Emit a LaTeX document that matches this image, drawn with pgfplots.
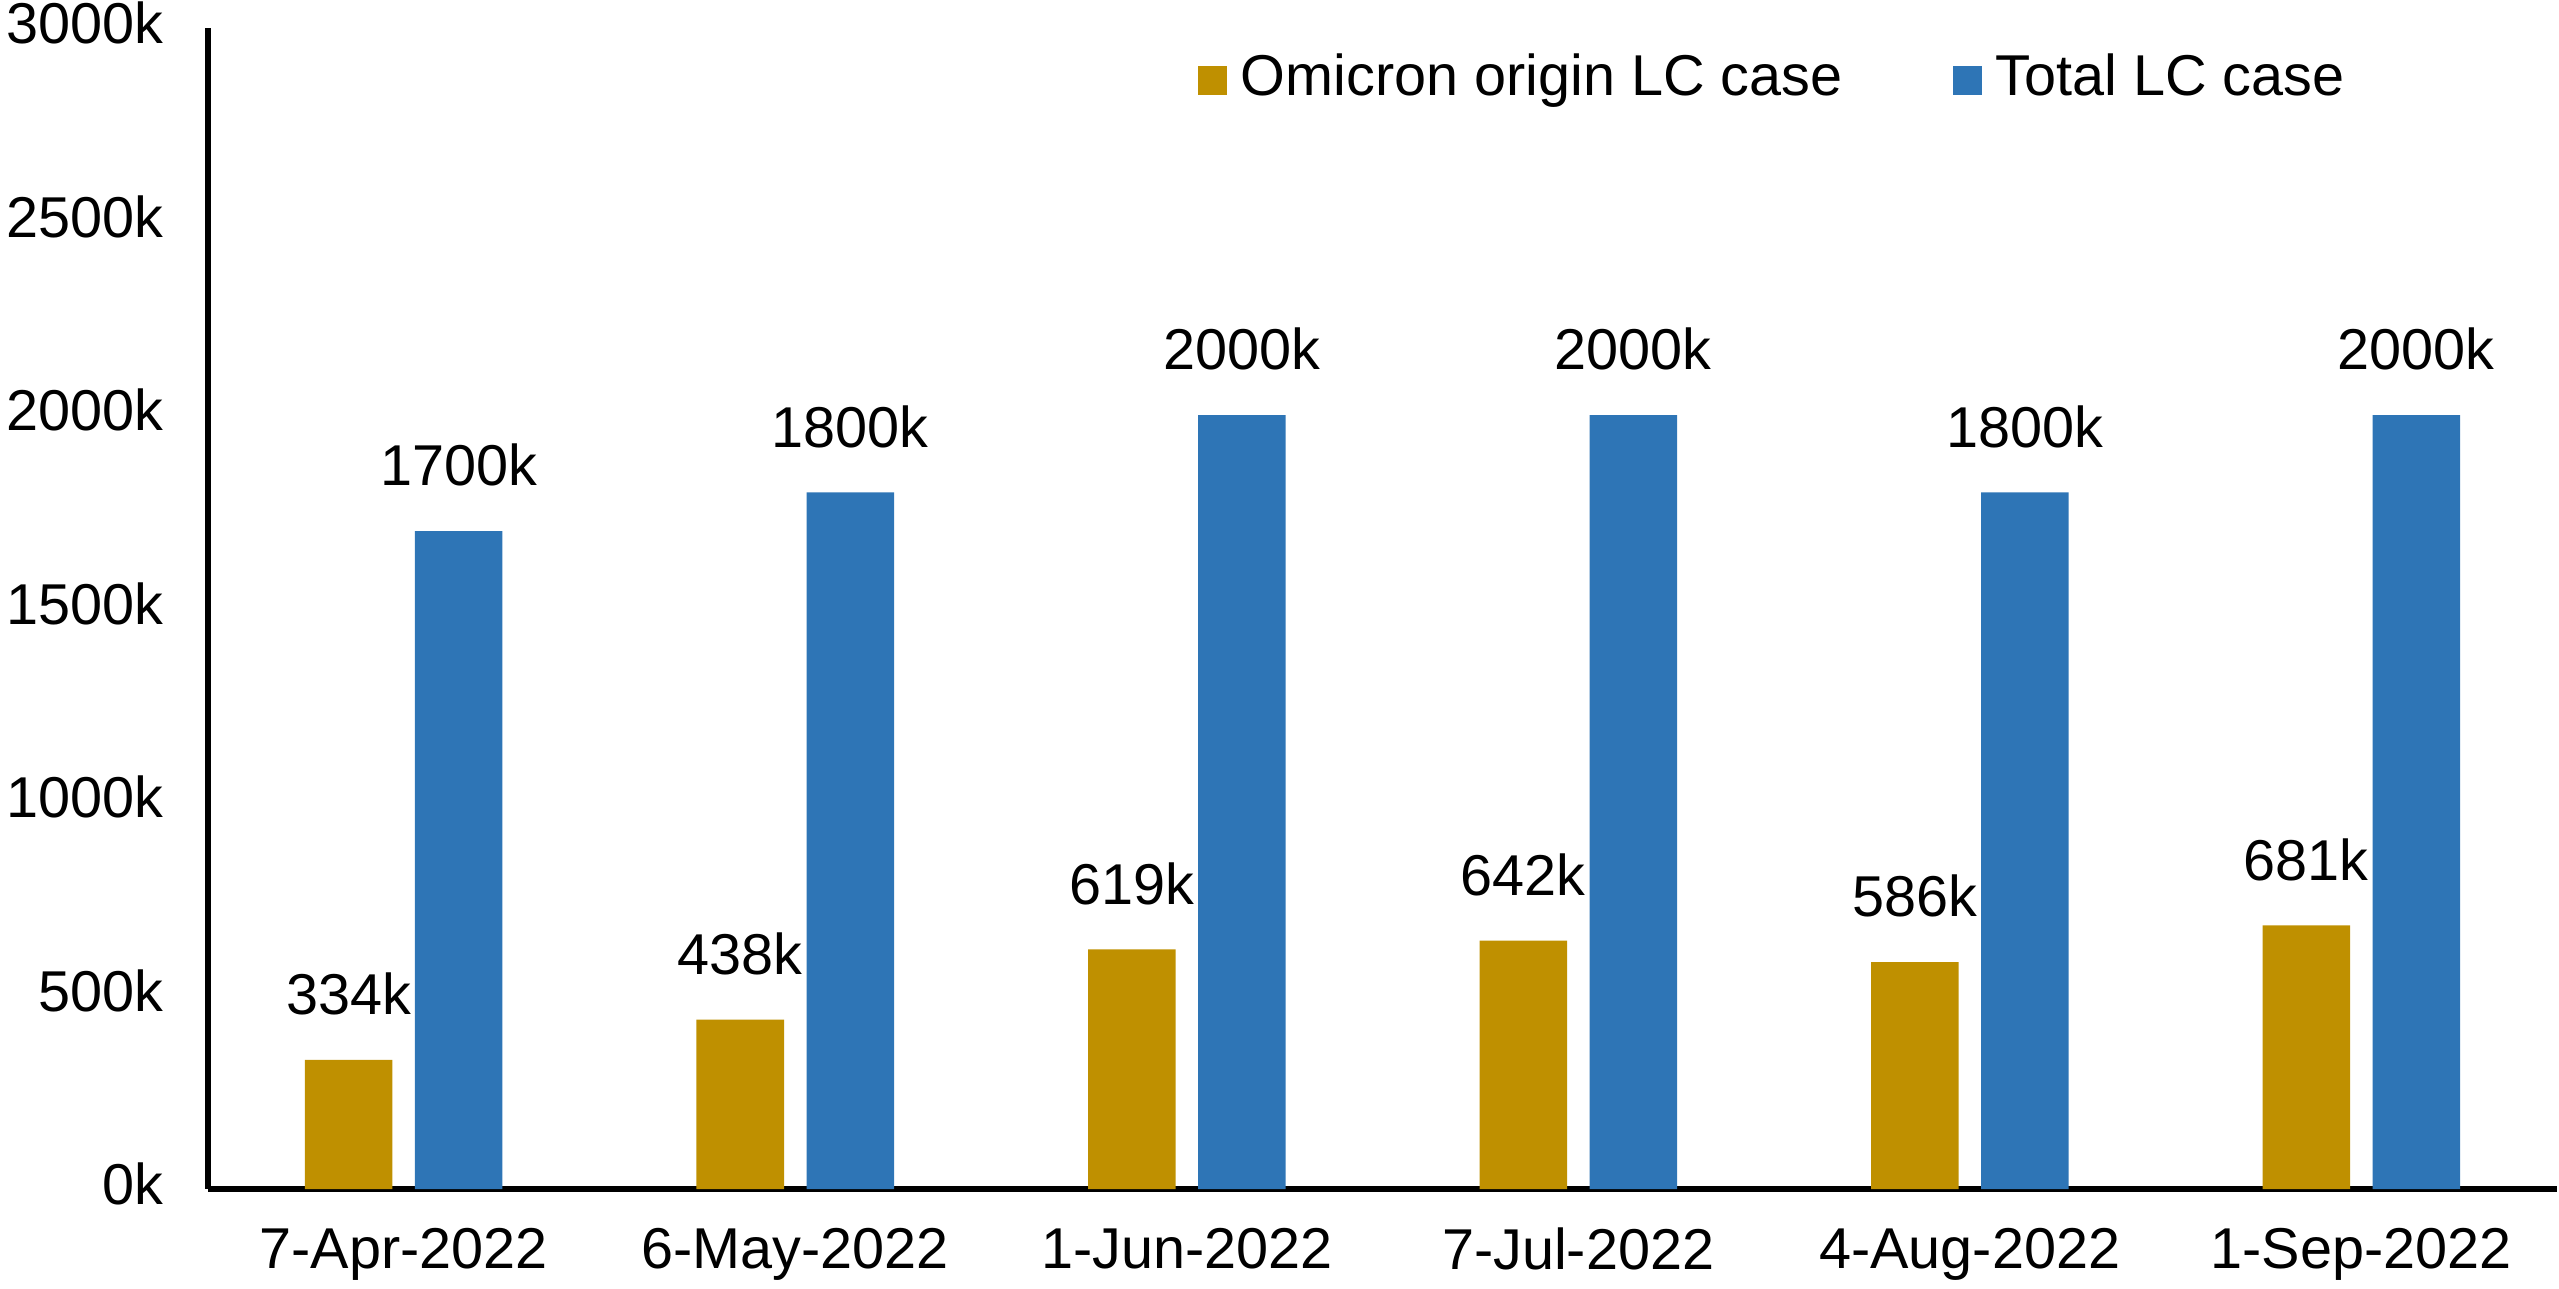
\documentclass[border=0pt]{standalone}
\usepackage{fontspec}
\setmainfont{Liberation Sans}
\usepackage{pgfplots}
\pgfplotsset{compat=1.18}
\definecolor{goldbar}{RGB}{191,144,0}
\definecolor{bluebar}{RGB}{46,117,182}
\newcommand\fs{\fontsize{14.4}{17.28}\selectfont}
\begin{document}
\begin{tikzpicture}[font=\fs]
\begin{axis}[
  scale only axis,
  width=587.25pt, height=290.25pt,
  at={(0pt,0pt)}, anchor=south west,
  xmin=-0.5, xmax=5.5, ymin=0, ymax=3000,
  axis x line*=bottom, axis y line*=left,
  axis line style={-, line width=1.6pt, black},
  xtick={0,1,2,3,4,5},
  xticklabels={7-Apr-2022,6-May-2022,1-Jun-2022,7-Jul-2022,4-Aug-2022,1-Sep-2022},
  ytick={0,500,1000,1500,2000,2500,3000},
  yticklabels={0k,500k,1000k,1500k,2000k,2500k,3000k},
  tick style={draw=none},
  major tick length=0pt,
  xticklabel style={font=\fs, yshift=-6.2pt},
  yticklabel style={font=\fs, xshift=-7.7pt, yshift=1.2pt},
  /pgf/number format/assume math mode=true,
  /pgf/number format/1000 sep={},
  ybar, bar width=21.875pt,
  nodes near coords={\pgfmathprintnumber[fixed,precision=0]{\pgfplotspointmeta}k},
  every node near coord/.append style={font=\fs, inner sep=0pt, anchor=south, yshift=11pt, black},
  clip=false,
  legend columns=2,
  legend image code/.code={\fill[#1] (0pt,-4.25pt) rectangle (7.25pt,3pt);},
  legend style={at={(0.421,0.957)}, anchor=west, draw=none, fill=none, inner sep=0pt, font=\fs,
    nodes={inner sep=0pt},
    /tikz/every odd column/.append style={column sep=3.5pt},
    /tikz/every even column/.append style={column sep=27.5pt}},
]
\addplot[draw=none, fill=goldbar, bar shift=-13.75pt] coordinates {(0,334) (1,438) (2,619) (3,642) (4,586) (5,681)};
\addlegendentry{Omicron origin LC case}
\addplot[draw=none, fill=bluebar, bar shift=13.75pt] coordinates {(0,1700) (1,1800) (2,2000) (3,2000) (4,1800) (5,2000)};
\addlegendentry{Total LC case}
\end{axis}
\pgfresetboundingbox
\path[use as bounding box] (-52pt,-24.75pt) rectangle (587.75pt,297.25pt);
\end{tikzpicture}
\end{document}
